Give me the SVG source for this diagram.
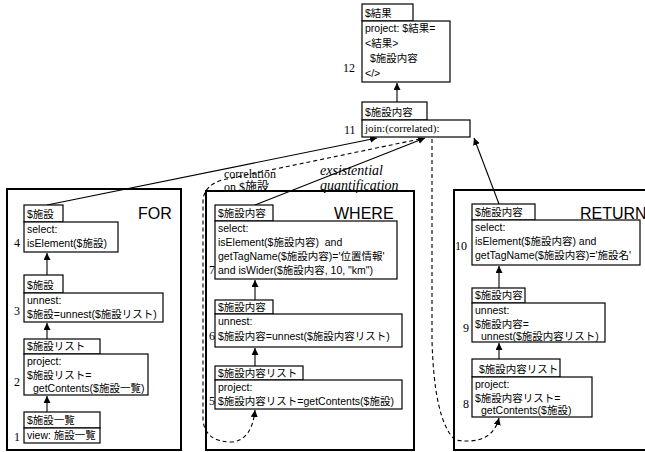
<svg xmlns="http://www.w3.org/2000/svg" width="645" height="452" viewBox="0 0 645 452">
<defs>
<marker id="ah" viewBox="0 0 10 10" refX="10" refY="5" markerWidth="7" markerHeight="7" markerUnits="userSpaceOnUse" orient="auto">
<path d="M0,0 L10,5 L0,10 z" fill="#000"/>
</marker>
</defs>
<style>
rect{fill:#fff;stroke:#000;stroke-width:1.2}
.frame{fill:none;stroke:#000;stroke-width:2}
text{font-family:"Liberation Sans","Noto Sans CJK JP",sans-serif;font-size:10.5px;fill:#000}
.num{font-family:"Liberation Serif","Noto Sans CJK JP",serif;font-size:12px}
.ser{font-family:"Liberation Serif","Noto Sans CJK JP",serif;font-size:11px}
.lab{font-family:"Liberation Serif","Noto Sans CJK JP",serif;font-size:12px}
.it{font-family:"Liberation Serif",serif;font-style:italic;font-size:14px}
.big{font-size:16px}
.c{fill:none;stroke:#000;stroke-width:1.1}
.d{fill:none;stroke:#000;stroke-width:1.1;stroke-dasharray:4,3}
</style>
<rect class="frame" x="7" y="189" width="174" height="261"/>
<rect class="frame" x="206" y="191" width="208" height="259"/>
<rect class="frame" x="454" y="190" width="200" height="260"/>
<text class="big" x="138" y="219">FOR</text>
<text class="big" x="334" y="219">WHERE</text>
<text class="big" x="580" y="219">RETURN</text>
<g id="connectors">
<path class="c" d="M397,119 L397,83" marker-end="url(#ah)"/>
<path class="c" d="M47,205 L377,138" marker-end="url(#ah)"/>
<path class="c" d="M255,205 L425,138" marker-end="url(#ah)"/>
<path class="c" d="M499,204 L474,138" marker-end="url(#ah)"/>
<path class="c" d="M47,275 L47,253" marker-end="url(#ah)"/>
<path class="c" d="M47,339 L47,323" marker-end="url(#ah)"/>
<path class="c" d="M47,412 L47,396" marker-end="url(#ah)"/>
<path class="c" d="M255,300 L255,280" marker-end="url(#ah)"/>
<path class="c" d="M255,366 L255,348" marker-end="url(#ah)"/>
<path class="c" d="M499,288 L499,266" marker-end="url(#ah)"/>
<path class="c" d="M499,359 L499,343" marker-end="url(#ah)"/>
<path class="d" d="M420,139 L222,180 Q203,186 203,202 L203,420 Q205,442 232,442 Q252,440 255,410" marker-end="url(#ah)"/>
<path class="d" d="M432,139 L432,340 Q434,420 455,440 Q492,446 499,418" marker-end="url(#ah)"/>
<text class="lab" x="224" y="178">correlation</text>
<text class="lab" x="224" y="191">on $施設</text>
<text class="it" x="320" y="175">exsistential</text>
<text class="it" x="320" y="190">quantification</text>
</g>
<g id="n12">
<rect x="362" y="4" width="51" height="17"/>
<rect x="362" y="21" width="88" height="61"/>
<text x="365" y="17">$結果</text>
<text x="365" y="32">project: $結果=</text>
<text x="365" y="47">&lt;結果&gt;</text>
<text x="370" y="62">$施設内容</text>
<text x="365" y="77">&lt;/&gt;</text>
<text class="num" x="343" y="72">12</text>
</g>
<g id="n11">
<rect x="362" y="102" width="65" height="18"/>
<rect x="362" y="120" width="108" height="17"/>
<text x="365" y="116">$施設内容</text>
<text class="ser" x="365" y="132">join:(correlated):</text>
<text class="num" x="344" y="134">11</text>
</g>
<g id="n4">
<rect x="24" y="205" width="39" height="17"/>
<rect x="24" y="222" width="94" height="30"/>
<text x="27" y="218">$施設</text>
<text x="27" y="233">select:</text>
<text x="27" y="247">isElement($施設)</text>
<text class="num" x="14" y="247">4</text>
</g>
<g id="n3">
<rect x="24" y="275" width="39" height="18"/>
<rect x="24" y="293" width="139" height="29"/>
<text x="27" y="289">$施設</text>
<text x="27" y="304">unnest:</text>
<text x="27" y="318">$施設=unnest($施設リスト)</text>
<text class="num" x="14" y="315">3</text>
</g>
<g id="n2">
<rect x="24" y="339" width="76" height="15"/>
<rect x="24" y="354" width="124" height="41"/>
<text x="27" y="350">$施設リスト</text>
<text x="27" y="365">project:</text>
<text x="27" y="379">$施設リスト=</text>
<text x="33" y="392">getContents($施設一覧)</text>
<text class="num" x="14" y="386">2</text>
</g>
<g id="n1">
<rect x="24" y="412" width="76" height="16"/>
<rect x="24" y="428" width="76" height="15"/>
<text x="27" y="424">$施設一覧</text>
<text x="27" y="439">view: 施設一覧</text>
<text class="num" x="14" y="441">1</text>
</g>
<g id="n7">
<rect x="215" y="205" width="58" height="16"/>
<rect x="215" y="221" width="182" height="58"/>
<text x="218" y="217">$施設内容</text>
<text x="218" y="232">select:</text>
<text x="218" y="246" xml:space="preserve">isElement($施設内容)  and</text>
<text x="218" y="260">getTagName($施設内容)='位置情報'</text>
<text x="218" y="274">and isWider($施設内容, 10, "km")</text>
<text class="num" x="209" y="274">7</text>
</g>
<g id="n6">
<rect x="215" y="300" width="58" height="14"/>
<rect x="215" y="314" width="187" height="33"/>
<text x="218" y="311">$施設内容</text>
<text x="218" y="325">unnest:</text>
<text x="218" y="340">$施設内容=unnest($施設内容リスト)</text>
<text class="num" x="209" y="340">6</text>
</g>
<g id="n5">
<rect x="215" y="366" width="88" height="14"/>
<rect x="215" y="380" width="187" height="29"/>
<text x="218" y="377">$施設内容リスト</text>
<text x="218" y="391">project:</text>
<text x="218" y="405">$施設内容リスト=getContents($施設)</text>
<text class="num" x="209" y="405">5</text>
</g>
<g id="n10">
<rect x="472" y="204" width="63" height="16"/>
<rect x="472" y="220" width="168" height="45"/>
<text x="475" y="216">$施設内容</text>
<text x="475" y="231">select:</text>
<text x="475" y="245">isElement($施設内容) and</text>
<text x="475" y="259">getTagName($施設内容)='施設名'</text>
<text class="num" x="455" y="250">10</text>
</g>
<g id="n9">
<rect x="472" y="288" width="53" height="15"/>
<rect x="472" y="303" width="133" height="39"/>
<text x="475" y="299">$施設内容</text>
<text x="475" y="314">unnest:</text>
<text x="475" y="328">$施設内容=</text>
<text x="481" y="340">unnest($施設内容リスト)</text>
<text class="num" x="463" y="332">9</text>
</g>
<g id="n8">
<rect x="472" y="359" width="88" height="18"/>
<rect x="472" y="377" width="120" height="40"/>
<text x="479" y="373">$施設内容リスト</text>
<text x="475" y="388">project:</text>
<text x="475" y="402">$施設内容リスト=</text>
<text x="481" y="414">getContents($施設)</text>
<text class="num" x="463" y="408">8</text>
</g>
</svg>
